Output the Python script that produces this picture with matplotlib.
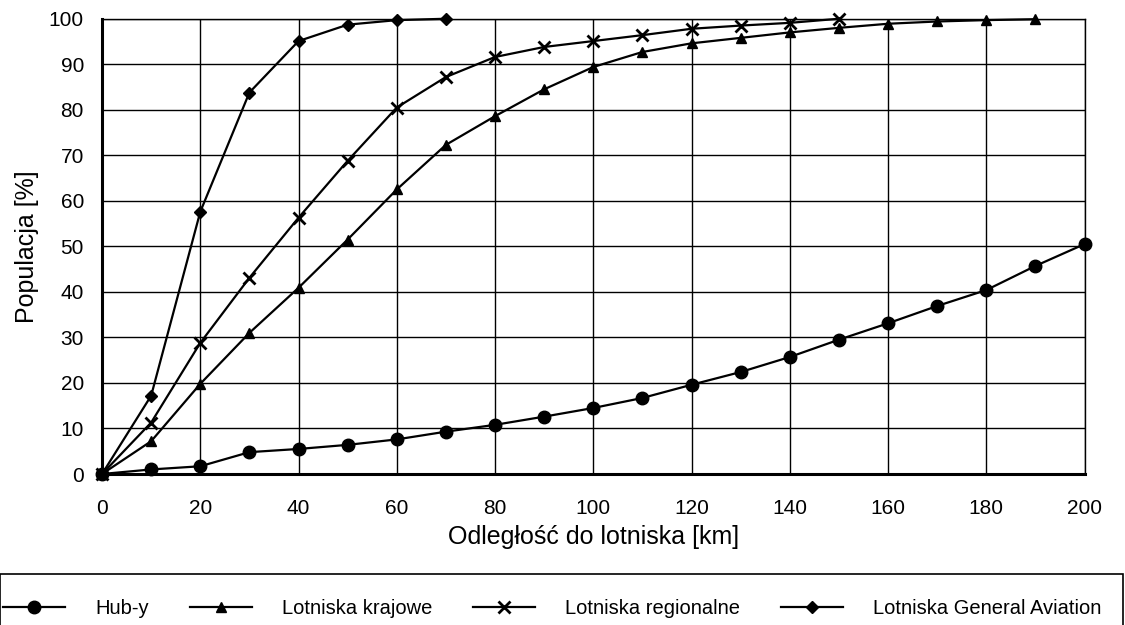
import matplotlib.pyplot as plt
from matplotlib.patches import Rectangle

plt.rcParams['font.family'] = ['Liberation Sans', 'DejaVu Sans']

# ---------------------------------------------------------------------------
#  Data
# ---------------------------------------------------------------------------

hub_x = list(range(0, 201, 10))
hub_y = [0, 1.0, 1.7, 4.8, 5.5, 6.4, 7.6, 9.3, 10.8, 12.6, 14.5,
         16.7, 19.6, 22.4, 25.7, 29.5, 33.1, 36.9, 40.4, 45.7, 50.5]

krajowe_x = list(range(0, 191, 10))
krajowe_y = [0, 7.2, 19.8, 31.0, 40.9, 51.5, 62.5, 72.3, 78.6, 84.5,
             89.4, 92.7, 94.6, 95.8, 97.0, 98.0, 98.9, 99.4, 99.7, 99.9]

regionalne_x = list(range(0, 151, 10))
regionalne_y = [0, 11.3, 28.8, 43.1, 56.3, 68.8, 80.5, 87.2, 91.6, 93.8,
                95.1, 96.4, 97.8, 98.5, 99.1, 100]

ga_x = list(range(0, 71, 10))
ga_y = [0, 17.2, 57.6, 83.8, 95.1, 98.7, 99.7, 100]

series = [
    ("Hub-y", hub_x, hub_y, "o", 9),
    ("Lotniska krajowe", krajowe_x, krajowe_y, "^", 7),
    ("Lotniska regionalne", regionalne_x, regionalne_y, "x", 8),
    ("Lotniska General Aviation", ga_x, ga_y, "D", 6),
]

# ---------------------------------------------------------------------------
#  Plot
# ---------------------------------------------------------------------------

fig = plt.figure(figsize=(11.25, 6.25), dpi=100)
ax = fig.add_axes([0.0907, 0.2416, 0.8733, 0.7284])

for label, xs, ys, marker, ms in series:
    ax.plot(xs, ys, color="black", lw=1.6, marker=marker, markersize=ms,
            markeredgewidth=2 if marker == "x" else 1, label=label,
            clip_on=False, zorder=3)

ax.set_xlim(0, 200)
ax.set_ylim(0, 100)
ax.set_xticks(range(0, 201, 20))
ax.set_yticks(range(0, 101, 10))
ax.grid(True, color="black", lw=1.0)
ax.set_axisbelow(True)
ax.tick_params(length=0, labelsize=15)
ax.tick_params(axis="x", pad=18)
ax.tick_params(axis="y", pad=13)

for side in ("left", "bottom"):
    ax.spines[side].set_linewidth(2.2)
for side in ("right", "top"):
    ax.spines[side].set_linewidth(1.0)

ax.set_xlabel("Odległość do lotniska [km]", fontsize=18, labelpad=5)
ax.set_ylabel("Populacja [%]", fontsize=18, labelpad=7)

# legend box across the bottom
fig.patches.append(Rectangle((0.0, -0.05), 0.998, 0.1316, transform=fig.transFigure,
                             fill=False, edgecolor="black", lw=1.2))
fig.legend(loc="center", bbox_to_anchor=(0.491, 0.027), ncol=4, frameon=False,
           fontsize=14.5, handlelength=3.1, columnspacing=2.0, handletextpad=1.5,
           markerscale=1.0)

fig.savefig("out.png", dpi=100)
